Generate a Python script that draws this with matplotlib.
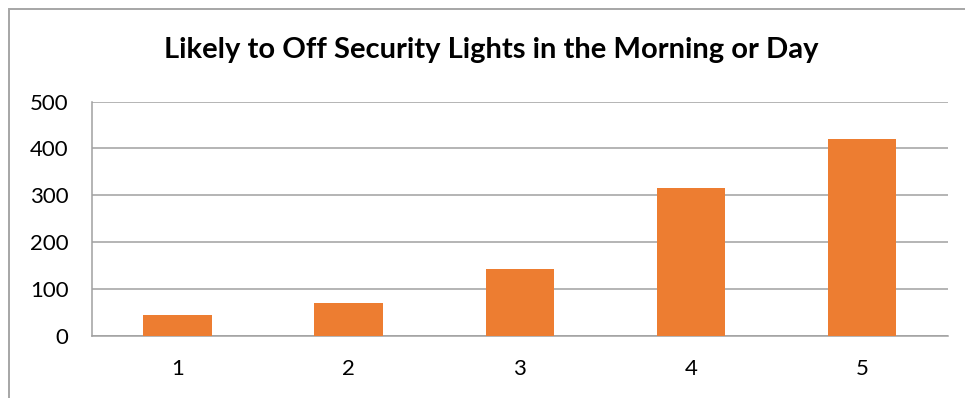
import matplotlib.pyplot as plt
from matplotlib.patches import Rectangle

plt.rcParams["font.family"] = ["Lato", "DejaVu Sans"]

categories = ["1", "2", "3", "4", "5"]
counts = [44, 69, 143, 316, 420]
y_ticks = [0, 100, 200, 300, 400, 500]

bar_color = "#ED7D31"
grid_color = "#a0a0a0"

fig = plt.figure(figsize=(9.65, 3.98), dpi=100)
ax = fig.add_axes([0.0953, 0.1565, 0.982 - 0.0953, 0.7445 - 0.1565])

# chart border like the excel frame
fig.patches.append(Rectangle((8.5 / 965, -0.1), 1.2, 1.1 - 8.5 / 398,
                             transform=fig.transFigure, fill=False,
                             edgecolor="#a6a6a6", linewidth=1.4))

x = range(len(categories))
ax.bar(x, counts, width=0.4, color=bar_color, zorder=3)

ax.set_xlim(-0.5, len(categories) - 0.5)
ax.set_ylim(0, 500)
ax.set_yticks(y_ticks)
ax.set_xticks(list(x))
ax.set_xticklabels(categories)

ax.grid(axis="y", color=grid_color, linewidth=1.1, zorder=0)
for s in ["top", "right"]:
    ax.spines[s].set_visible(False)
ax.spines["left"].set_color(grid_color)
ax.spines["bottom"].set_color(grid_color)
ax.spines["left"].set_linewidth(1.1)
ax.spines["bottom"].set_linewidth(1.1)
ax.tick_params(length=0, labelsize=16, pad=17)

fig.text(491 / 965, 1 - 50 / 398, "Likely to Off Security Lights in the Morning or Day",
         ha="center", va="center", fontsize=21, fontweight="bold")

fig.savefig("out.png", dpi=100)
